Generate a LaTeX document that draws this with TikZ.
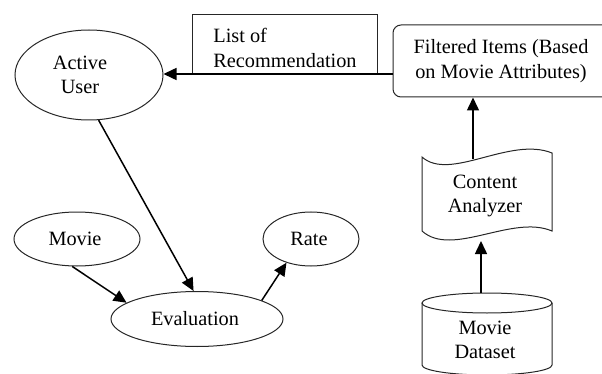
\documentclass[tikz,border=0pt]{standalone}
\usepackage{fontspec}
\setmainfont{Liberation Serif}
\usetikzlibrary{shapes.geometric,arrows.meta}
\begin{document}
\begin{tikzpicture}[x=1pt,y=-1pt,
  every node/.style={font=\fontsize{20.3}{24.5}\selectfont, text=black, inner sep=0pt},
  shp/.style={draw=black!85, line width=1pt},
  ell/.style={shp, ellipse},
  arr/.style={draw=black, line width=1.5pt, -{Triangle[length=13pt,width=12pt]}},
  lbl/.style={align=center}
]
\useasboundingbox (0,0) rectangle (602,374);
% Active User
\node[ell, minimum width=148pt, minimum height=90pt] (user) at (89,75) {};
\node[lbl] (usertxt) at (80,75) {Active\\User};
% List of Recommendation
\node[shp, minimum width=185pt, minimum height=59pt] (lst) at (284.5,44.5) {};
\node[align=left] (lsttxt) at (285,48) {List of\\Recommendation};
% Filtered Items
\node[shp, rounded corners=8pt, minimum width=230pt, minimum height=72pt] (filt) at (508,61) {};
\node[lbl] (filttxt) at (501,61) {Filtered Items (Based\\on Movie Attributes)};
% Content Analyzer (tape)
\draw[shp] (422,157) .. controls (450,182) and (510,136) .. (552,153)
  -- (552,231) .. controls (512,214) and (452,258) .. (422,231) -- cycle;
\coordinate (catop) at (473,159);
\coordinate (cabot) at (481,241);
\node[lbl] (catxt) at (485,196) {Content\\Analyzer};
% Movie Dataset (cylinder)
\draw[shp] (487,303) ellipse [x radius=65, y radius=10];
\draw[shp] (422,303) -- (422,365) arc[start angle=180, end angle=360, x radius=65, y radius=-10] -- (552,303);
\coordinate (dstop) at (481,293);
\node[lbl] (dstxt) at (485,340) {Movie\\Dataset};
% Movie, Rate, Evaluation
\node[ell, minimum width=126pt, minimum height=54pt] (movie) at (77,239) {};
\node (movietxt) at (75,239) {Movie};
\node[ell, minimum width=96pt, minimum height=54pt] (rate) at (311,239) {};
\node (ratetxt) at (309,239) {Rate};
\node[ell, minimum width=172pt, minimum height=55pt] (eval) at (197,319) {};
\node (evaltxt) at (195,319) {Evaluation};
% connectors
\draw[arr] (filt.west |- 0,74) -- (user.east |- 0,74);
\draw[arr] (catop) -- (catop |- filt.south);
\draw[arr] (dstop) -- (cabot);
\draw[arr] (user.-78) -- (eval.97);
\draw[arr] (movie.-100) -- (eval.167);
\draw[arr] (eval.16) -- (rate.224);
\end{tikzpicture}
\end{document}
